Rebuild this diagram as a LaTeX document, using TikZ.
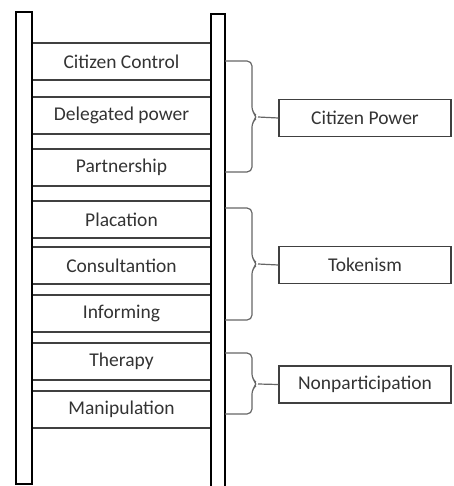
\documentclass[tikz,border=0pt]{standalone}
\usepackage{fontspec}
\setmainfont{Carlito}
\usetikzlibrary{positioning, calc}

\begin{document}
\begin{tikzpicture}[
    x=1pt, y=-1pt,
    rung/.style  = {rectangle, draw=black!75, line width=1.3pt,
                    minimum width=179pt, minimum height=37pt, inner sep=0pt,
                    text=black!80, font=\fontsize{19.5}{23}\selectfont},
    group/.style = {rectangle, draw=black!75, line width=1.3pt,
                    minimum width=172pt, minimum height=37pt, inner sep=0pt,
                    text=black!80, font=\fontsize{19.5}{23}\selectfont},
    rail/.style  = {draw=black, line width=2.8pt},
    bracket/.style = {draw=black!60, line width=1.2pt, rounded corners=5pt}
]
\useasboundingbox (0,0) rectangle (453,486);

% Ladder rungs
\node[rung] at (121.5, 61.5) (control) {Citizen Control};
\node[rung] at (121.5, 115.5) (delegated) {Delegated power};
\node[rung] at (121.5, 167.5) (partner) {Partnership};
\node[rung] at (121.5, 219.5) (placation) {Placation};
\node[rung] at (121.5, 265.5) (consult) {Consultantion};
\node[rung] at (121.5, 313.5) (inform) {Informing};
\node[rung] at (121.5, 361.5) (therapy) {Therapy};
\node[rung] at (121.5, 409.5) (manip) {Manipulation};

% Ladder rails
\draw[rail] (16,12) rectangle (32,484);
\draw[rail] (211,490) -- (211,14) -- (225,14) -- (225,490);

% Groups
\node[group] at (365, 118) (power) {Citizen Power};
\node[group] at (365, 265) (token) {Tokenism};
\node[group] at (365, 384.5) (nonpart) {Nonparticipation};

\coordinate (powerTip) at (258, 117);
\draw[bracket] (225,61) -- (252,61) -- (252,112) -- (powerTip) -- (252,122) -- (252,172) -- (225,172);
\draw[bracket] (powerTip) -- (power.west);

\coordinate (tokenTip) at (258, 264);
\draw[bracket] (225,208) -- (252,208) -- (252,259) -- (tokenTip) -- (252,269) -- (252,320) -- (225,320);
\draw[bracket] (tokenTip) -- (token.west);

\coordinate (nonpartTip) at (258, 384);
\draw[bracket] (225,353) -- (252,353) -- (252,379) -- (nonpartTip) -- (252,389) -- (252,414) -- (225,414);
\draw[bracket] (nonpartTip) -- (nonpart.west);

\end{tikzpicture}
\end{document}
